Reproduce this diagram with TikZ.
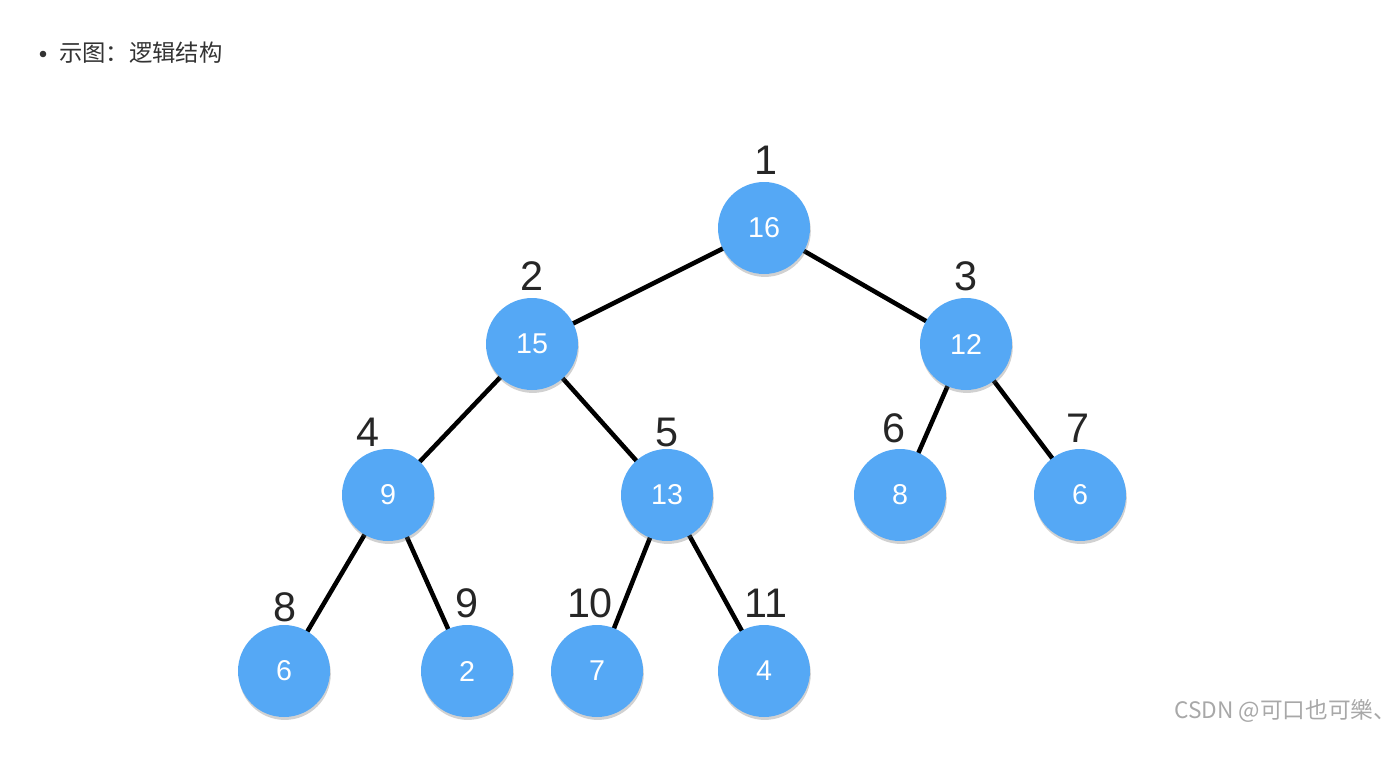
\documentclass[tikz,border=0pt]{standalone}
\usepackage{fontspec}
\setmainfont{Liberation Sans}
\newfontfamily\cjk{Noto Sans CJK SC}
\usetikzlibrary{shadows}
\definecolor{nodeblue}{HTML}{55A8F5}
\definecolor{txtgray}{HTML}{333333}
\definecolor{wmgray}{HTML}{A8A8A8}
\begin{document}
\begin{tikzpicture}[x=0.75pt,y=-0.75pt,
  heap/.style={circle,fill=nodeblue,minimum size=69pt,inner sep=0pt,
    text=white,font=\fontsize{21.5}{21.5}\selectfont,
    drop shadow={shadow xshift=0.6pt,shadow yshift=-2.2pt,opacity=0.3,fill=black!60}},
  idx/.style={font=\fontsize{31}{31}\selectfont,text=black!85,inner sep=0pt},
  edge/.style={line width=3.4pt,black}]
\useasboundingbox (0,0) rectangle (1400,779);
% title
\fill[txtgray] (43,54) circle (3.3);
\node[anchor=west,text=txtgray,font=\cjk\fontsize{17.5}{17.5}\selectfont,inner sep=0pt] (title) at (59,53) {示图：逻辑结构};
% edges first
\coordinate (p1) at (764,228);
\coordinate (p2) at (532,344);
\coordinate (p3) at (966,344);
\coordinate (p4) at (388,495);
\coordinate (p5) at (667,495);
\coordinate (p6) at (900,495);
\coordinate (p7) at (1080,495);
\coordinate (p8) at (284,671);
\coordinate (p9) at (467,671);
\coordinate (p10) at (597,671);
\coordinate (p11) at (764,671);
\draw[edge] (p1) -- (p2);
\draw[edge] (p1) -- (p3);
\draw[edge] (p2) -- (p4);
\draw[edge] (p2) -- (p5);
\draw[edge] (p3) -- (p6);
\draw[edge] (p3) -- (p7);
\draw[edge] (p4) -- (p8);
\draw[edge] (p4) -- (p9);
\draw[edge] (p5) -- (p10);
\draw[edge] (p5) -- (p11);
% nodes
\node[heap] (n1) at (p1) {16};
\node[heap] (n2) at (p2) {15};
\node[heap] (n3) at (p3) {12};
\node[heap] (n4) at (p4) {9};
\node[heap] (n5) at (p5) {13};
\node[heap] (n6) at (p6) {8};
\node[heap] (n7) at (p7) {6};
\node[heap] (n8) at (p8) {6};
\node[heap] (n9) at (p9) {2};
\node[heap] (n10) at (p10) {7};
\node[heap] (n11) at (p11) {4};
% index labels
\node[idx] (l1) at (766,160) {1};
\node[idx] (l2) at (532,276) {2};
\node[idx] (l3) at (966,276) {3};
\node[idx] (l4) at (368,432) {4};
\node[idx] (l5) at (667,432) {5};
\node[idx] (l6) at (894,428) {6};
\node[idx] (l7) at (1078,428) {7};
\node[idx] (l8) at (285,607) {8};
\node[idx] (l9) at (467,603) {9};
\node[idx] (l10) at (590,603) {10};
\node[idx] (l11) at (766,603) {11};
% watermark
\node[anchor=west,text=wmgray,font=\cjk\fontsize{17}{17}\selectfont,inner sep=0pt] (wm) at (1174,711) {CSDN @可口也可樂、};
\end{tikzpicture}
\end{document}
